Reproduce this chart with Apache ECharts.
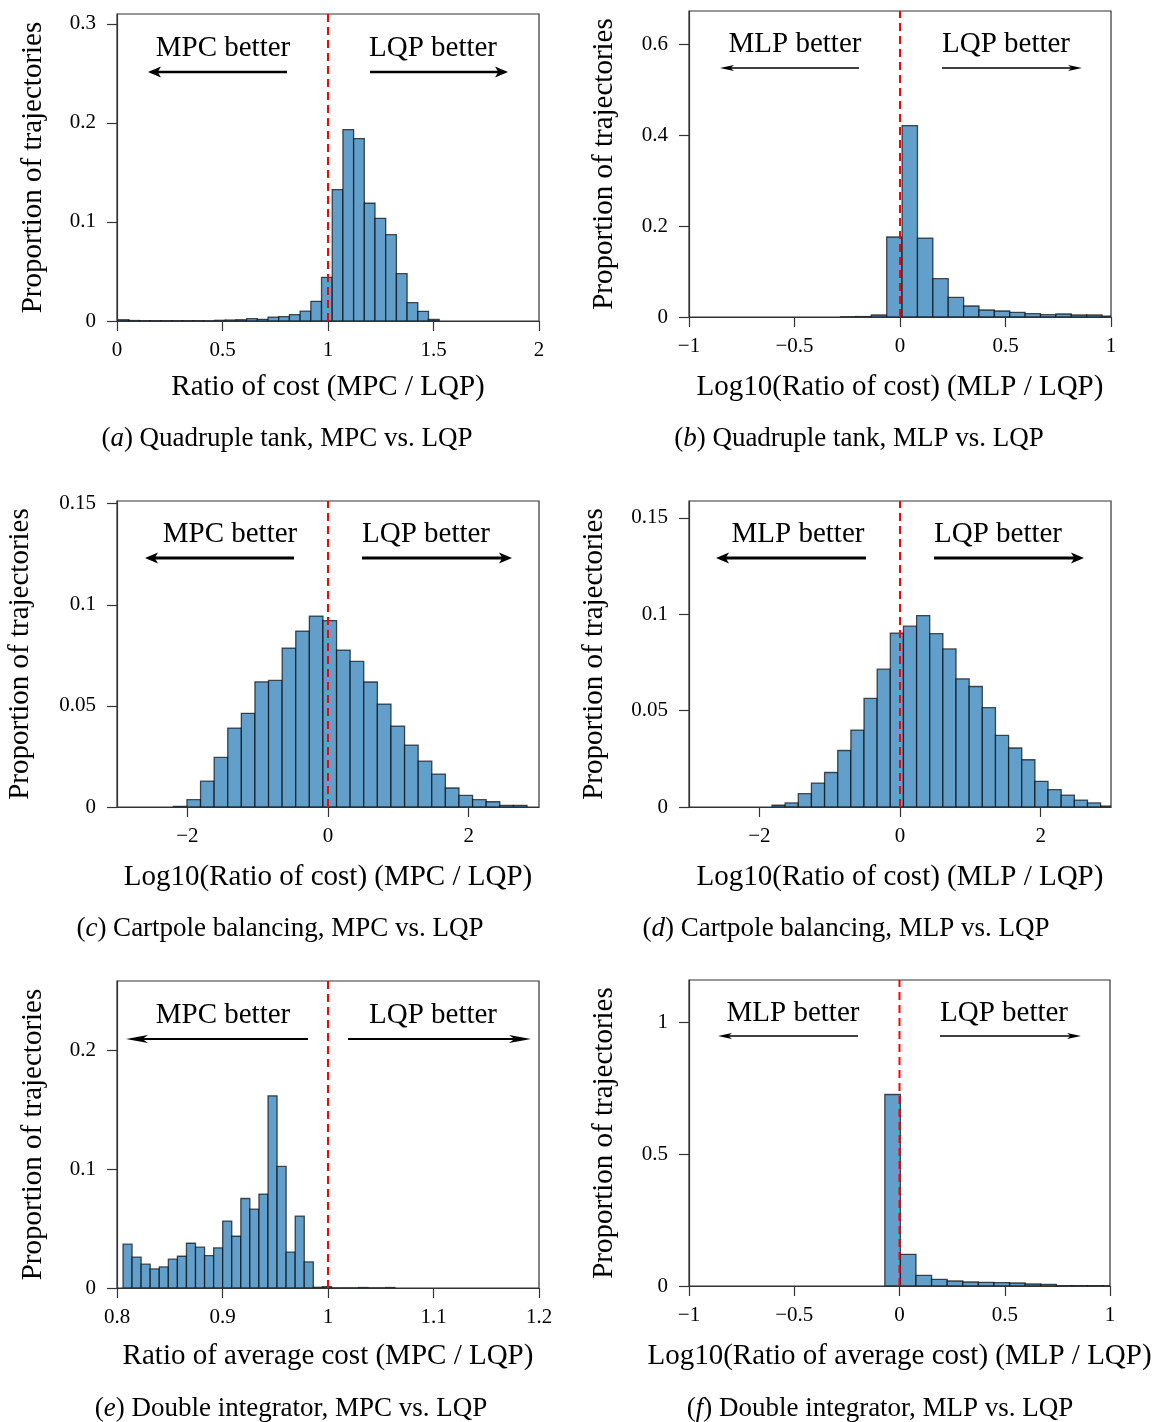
<!DOCTYPE html>
<html><head><meta charset="utf-8">
<script src="https://cdn.jsdelivr.net/npm/echarts@6/dist/echarts.min.js"></script>
<style>html,body{margin:0;padding:0;background:#fff}#c{width:1156px;height:1422px}</style>
</head><body><div id="c"></div>
<script>
// ---------- DATA ----------
// (a) Quadruple tank, MPC vs. LQP  (ratio of cost)
const aBinStart = 0.006, aBinWidth = 0.0507;
const aHeights = [0.0013,0.0005,0.0003,0.0003,0.0003,0.0003,0.0003,0.0003,0.0002,0.0007,0.001,0.0013,0.0023,0.0017,0.004,0.0045,0.0064,0.010,0.0199,0.0441,0.1327,0.1933,0.1842,0.1189,0.1037,0.0872,0.0478,0.0186,0.0098,0.0015];
const aXTicks = [0,0.5,1,1.5,2];
const aYTicks = [0,0.1,0.2,0.3];

// (b) Quadruple tank, MLP vs. LQP  (log10 ratio)
const bBinStart = -0.2817, bBinWidth = 0.0729;
const bHeights = [0.0005,0.001,0.0044,0.176,0.421,0.1736,0.0842,0.0431,0.0242,0.0154,0.0132,0.0101,0.0073,0.0051,0.0066,0.0044,0.0044,0.002];
const bXTicks = [-1,-0.5,0,0.5,1];
const bYTicks = [0,0.2,0.4,0.6];

// (c) Cartpole balancing, MPC vs. LQP
const cBinStart = -2.199, cBinWidth = 0.1934;
const cHeights = [0.0003,0.0036,0.0128,0.0245,0.039,0.0463,0.0619,0.0626,0.0786,0.087,0.0944,0.0922,0.0776,0.072,0.0618,0.0509,0.04,0.0306,0.0227,0.0163,0.0094,0.0057,0.0036,0.0026,0.0008,0.0008];
const cXTicks = [-2,0,2];
const cYTicks = [0,0.05,0.1,0.15];

// (d) Cartpole balancing, MLP vs. LQP
const dBinStart = -1.82, dBinWidth = 0.1869;
const dHeights = [0.0009,0.0021,0.0069,0.0124,0.0179,0.0293,0.0399,0.0563,0.0715,0.0902,0.0938,0.0993,0.0899,0.082,0.0665,0.0625,0.0515,0.0371,0.0306,0.0245,0.0133,0.009,0.0062,0.0036,0.0021,0.0005];
const dXTicks = [-2,0,2];
const dYTicks = [0,0.05,0.1,0.15];

// (e) Double integrator, MPC vs. LQP (ratio of average cost)
const eBinStart = 0.8057, eBinWidth = 0.00859;
const eHeights = [0.0368,0.0259,0.02,0.016,0.0177,0.0242,0.0267,0.0376,0.0343,0.0272,0.0337,0.0562,0.0435,0.0752,0.0663,0.0789,0.1615,0.1022,0.0301,0.0604,0.0219,0.0006,0.0011,0,0,0,0.0004,0,0,0.0004];
const eXTicks = [0.8,0.9,1,1.1,1.2];
const eYTicks = [0,0.1,0.2];

// (f) Double integrator, MLP vs. LQP
const fBinStart = -0.0698, fBinWidth = 0.0741;
const fHeights = [0.726,0.120,0.0404,0.0253,0.019,0.0152,0.014,0.013,0.0114,0.0076,0.0063,0.0013,0.0013,0.0013,0.001];
const fXTicks = [-1,-0.5,0,0.5,1];
const fYTicks = [0,0.5,1];

const yAxisTitle = 'Proportion of trajectories';
const xTitles = ['Ratio of cost (MPC / LQP)','Log10(Ratio of cost) (MLP / LQP)','Log10(Ratio of cost) (MPC / LQP)','Log10(Ratio of cost) (MLP / LQP)','Ratio of average cost (MPC / LQP)','Log10(Ratio of average cost) (MLP / LQP)'];
const captionLetters = ['a','b','c','d','e','f'];
const captionTexts = [' Quadruple tank, MPC vs. LQP',' Quadruple tank, MLP vs. LQP',' Cartpole balancing, MPC vs. LQP',' Cartpole balancing, MLP vs. LQP',' Double integrator, MPC vs. LQP',' Double integrator, MLP vs. LQP'];
const leftLabels = ['MPC better','MLP better','MPC better','MLP better','MPC better','MLP better'];
const rightLabel = 'LQP better';
const refValues = [1,0,0,0,1,0];

// ---------- LAYOUT ----------
const FONT = '"Liberation Serif","Times New Roman",serif';
const panels = [
  {binStart:aBinStart,binWidth:aBinWidth,h:aHeights,xt:aXTicks,yt:aYTicks,xMin:0,xMax:2,yMax:0.31,
   L:117,T:14,W:422,H:307,nx:52,ny:69,cap:[287,439],ann:{ty:48,ay:72,lt:223,rt:433,la:[287,148],ra:[370,508],w:2.6,hl:13,hw:5.5}},
  {binStart:bBinStart,binWidth:bBinWidth,h:bHeights,xt:bXTicks,yt:bYTicks,xMin:-1,xMax:1,yMax:0.673,
   L:689,T:11,W:422,H:306,nx:56,ny:70,cap:[859,439],ann:{ty:44,ay:68,lt:795,rt:1006,la:[859,720],ra:[942,1082],w:1.4,hl:14,hw:3}},
  {binStart:cBinStart,binWidth:cBinWidth,h:cHeights,xt:cXTicks,yt:cYTicks,xMin:-3,xMax:3,yMax:0.1513,
   L:117,T:501,W:422,H:306,nx:56,ny:82,cap:[280,929],ann:{ty:534,ay:558,lt:230,rt:426,la:[294,145],ra:[362,512],w:2.8,hl:13,hw:5.5}},
  {binStart:dBinStart,binWidth:dBinWidth,h:dHeights,xt:dXTicks,yt:dYTicks,xMin:-3,xMax:3,yMax:0.1587,
   L:689,T:501,W:422,H:306,nx:56,ny:80,cap:[846,929],ann:{ty:534,ay:558,lt:798,rt:998,la:[866,716],ra:[934,1084],w:2.8,hl:13,hw:5.5}},
  {binStart:eBinStart,binWidth:eBinWidth,h:eHeights,xt:eXTicks,yt:eYTicks,xMin:0.8,xMax:1.2,yMax:0.258,
   L:117,T:981,W:422,H:307,nx:54,ny:69,cap:[291,1409],ann:{ty:1015,ay:1039,lt:223,rt:433,la:[308,126],ra:[348,531],w:2,hl:22,hw:4}},
  {binStart:fBinStart,binWidth:fBinWidth,h:fHeights,xt:fXTicks,yt:fYTicks,xMin:-1,xMax:1,yMax:1.16,
   L:689,T:980,W:421,H:306,nx:56,ny:70,cap:[880,1409],ann:{ty:1013,ay:1036,lt:793,rt:1004,la:[858,718],ra:[940,1081],w:1.4,hl:14,hw:3}}
];

function fmt(v){ const n = +(+v).toFixed(4); return (n<0?'\u2212':'') + String(Math.abs(n)); }

function renderBar(params, api){
  const x0 = api.value(0), x1 = api.value(1), h = api.value(2);
  const p0 = api.coord([x0, 0]);
  const p1 = api.coord([x1, h]);
  const rect = {x:p0[0], y:p1[1], width:p1[0]-p0[0], height:p0[1]-p1[1]};
  const cs = params.coordSys;
  const clipped = echarts.graphic.clipRectByRect(rect, {x:cs.x, y:cs.y, width:cs.width, height:cs.height});
  if (!clipped) return null;
  return {type:'rect', shape:clipped, style:{fill:'#62A0CB', stroke:'rgba(0,0,0,0.68)', lineWidth:1.3}};
}

const grid=[], xAxis=[], yAxis=[], series=[], graphic=[];
panels.forEach((p,i)=>{
  grid.push({left:p.L, top:p.T, width:p.W, height:p.H, show:true, borderColor:'#333', borderWidth:1.2, containLabel:false});
  xAxis.push({type:'value', gridIndex:i, min:p.xMin, max:p.xMax,
    name:xTitles[i], nameLocation:'middle', nameGap:p.nx,
    nameTextStyle:{fontFamily:FONT, fontSize:29, color:'#000'},
    axisLine:{show:true, onZero:false, lineStyle:{color:'#333', width:1.2}},
    axisTick:{show:true, length:10, customValues:p.xt, lineStyle:{color:'#333', width:1.2}},
    axisLabel:{customValues:p.xt, formatter:fmt, margin:19, fontFamily:FONT, fontSize:21, color:'#000'},
    splitLine:{show:false}});
  yAxis.push({type:'value', gridIndex:i, min:0, max:p.yMax,
    name:yAxisTitle, nameLocation:'middle', nameGap:p.ny,
    nameTextStyle:{fontFamily:FONT, fontSize:29, color:'#000'},
    axisLine:{show:true, onZero:false, lineStyle:{color:'#333', width:1.2}},
    axisTick:{show:true, length:10, customValues:p.yt, lineStyle:{color:'#333', width:1.2}},
    axisLabel:{customValues:p.yt, formatter:fmt, margin:21, fontFamily:FONT, fontSize:21, color:'#000'},
    splitLine:{show:false}});
  series.push({type:'custom', xAxisIndex:i, yAxisIndex:i, renderItem:renderBar, clip:true,
    encode:{x:[0,1], y:2},
    data:p.h.map((v,k)=>[p.binStart+k*p.binWidth, p.binStart+(k+1)*p.binWidth, v]), z:2});
  series.push({type:'line', xAxisIndex:i, yAxisIndex:i, symbol:'none', silent:true, z:5,
    lineStyle:{color:'#ff0000', width:2, type:[8,5]},
    data:[[refValues[i],0],[refValues[i],p.yMax]]});
  const a = p.ann;
  graphic.push({type:'text', x:a.lt, y:a.ty, style:{text:leftLabels[i], fontFamily:FONT, fontSize:29, fill:'#000', align:'center', verticalAlign:'middle'}});
  graphic.push({type:'text', x:a.rt, y:a.ty, style:{text:rightLabel, fontFamily:FONT, fontSize:29, fill:'#000', align:'center', verticalAlign:'middle'}});
  [a.la, a.ra].forEach(([x1,x2])=>{
    const dir = Math.sign(x2-x1);
    graphic.push({type:'line', shape:{x1:x1, y1:a.ay, x2:x2-dir*a.hl*0.6, y2:a.ay}, style:{stroke:'#000', lineWidth:a.w}});
    graphic.push({type:'polygon', shape:{points:[[x2,a.ay],[x2-dir*a.hl,a.ay-a.hw],[x2-dir*a.hl*0.75,a.ay],[x2-dir*a.hl,a.ay+a.hw]]}, style:{fill:'#000'}});
  });
  graphic.push({type:'text', x:p.cap[0], y:p.cap[1], style:{text:'({it|'+captionLetters[i]+'})'+captionTexts[i], fontFamily:FONT, fontSize:27, fill:'#000', align:'center', verticalAlign:'middle',
    rich:{it:{fontFamily:FONT, fontSize:27, fontStyle:'italic', fill:'#000'}}}});
});

const chart = echarts.init(document.getElementById('c'), null, {renderer:'canvas'});
chart.setOption({animation:false, backgroundColor:'#fff', grid, xAxis, yAxis, series, graphic});
</script></body></html>
